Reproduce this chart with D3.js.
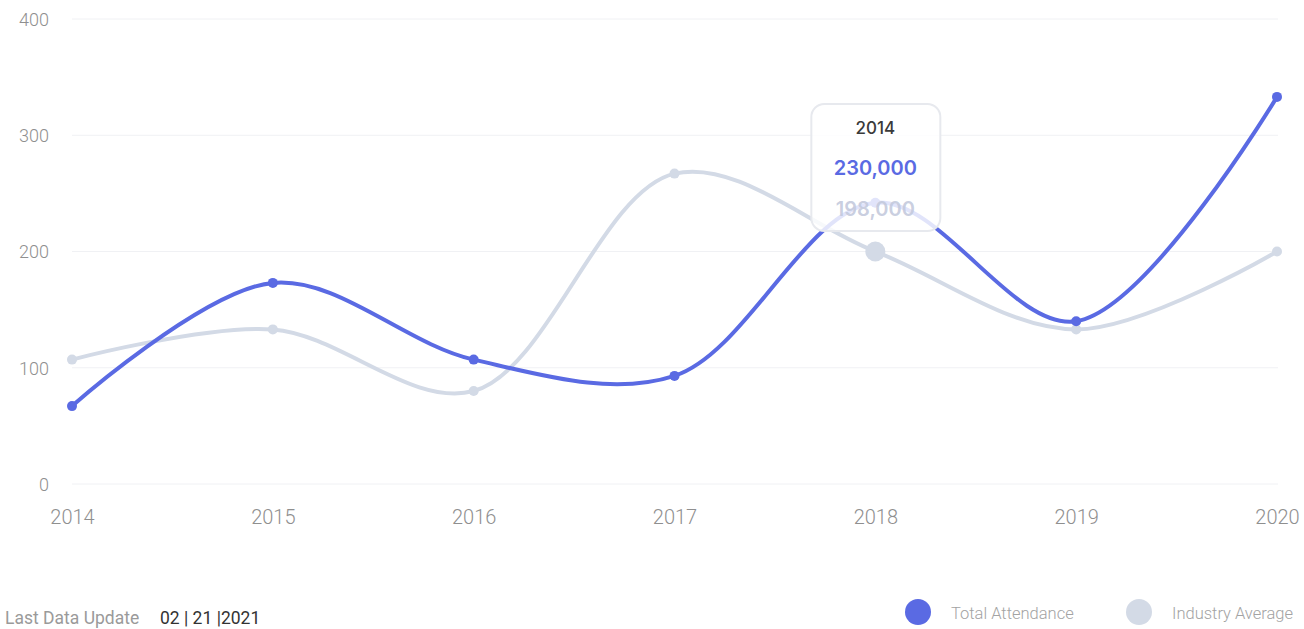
<!DOCTYPE html>
<html><head><meta charset="utf-8">
<script src="https://cdn.jsdelivr.net/npm/d3@7"></script>
<style>
html,body{margin:0;padding:0;background:#fff;}
svg{display:block;}
</style></head>
<body>
<svg id="chart" width="1304" height="629"></svg>
<script>
const years = ["2014","2015","2016","2017","2018","2019","2020"];
const totalAttendance = [67, 173, 107, 93, 242, 140, 333];
const industryAverage = [107, 133, 80, 267, 200, 133, 200];
const yTicks = [0, 100, 200, 300, 400];
const tooltipTitle = "2014";
const tooltipValues = ["230,000", "198,000"];
const legendLabels = ["Total Attendance", "Industry Average"];
const hoverIndex = 4;

const blue = "#5a6ae3";
const grey = "#d3dae6";

const svg = d3.select("#chart");
const x = d3.scalePoint().domain(years).range([72, 1277]);
const y = d3.scaleLinear().domain([0, 400]).range([484, 19]);

// grid
svg.append("g").selectAll("line").data(yTicks).join("line")
  .attr("x1", 72).attr("x2", 1278)
  .attr("y1", d => y(d)).attr("y2", d => y(d))
  .attr("stroke", "#f0f1f4").attr("stroke-width", 1);

// y labels
const yAxis = d3.axisLeft(y).tickValues(yTicks).tickSize(0).tickPadding(0);
const gy = svg.append("g").attr("transform", "translate(49,0)").call(yAxis);
gy.select(".domain").remove();
gy.selectAll("text").attr("font-family", "Roboto").attr("font-size", 18).attr("font-weight", 300)
  .attr("fill", "#8f8f8f").attr("dy", "0.35em");

// x labels
const xAxis = d3.axisBottom(x).tickSize(0).tickPadding(0);
const gx = svg.append("g").attr("transform", "translate(0,517)").call(xAxis);
gx.select(".domain").remove();
gx.selectAll("text").attr("font-family", "Roboto").attr("font-size", 20).attr("font-weight", 300)
  .attr("fill", "#8f8f8f").attr("dy", "0.35em");

const line = d3.line().x((d, i) => x(years[i])).y(d => y(d)).curve(d3.curveCatmullRom.alpha(0.5));

svg.append("path").datum(industryAverage).attr("d", line)
  .attr("fill", "none").attr("stroke", grey).attr("stroke-width", 4);
svg.append("path").datum(totalAttendance).attr("d", line)
  .attr("fill", "none").attr("stroke", blue).attr("stroke-width", 4);

svg.append("g").selectAll("circle").data(industryAverage).join("circle")
  .attr("cx", (d, i) => x(years[i])).attr("cy", d => y(d))
  .attr("r", (d, i) => i === hoverIndex ? 10 : 5).attr("fill", grey);
svg.append("g").selectAll("circle").data(totalAttendance).join("circle")
  .attr("cx", (d, i) => x(years[i])).attr("cy", d => y(d))
  .attr("r", 5).attr("fill", blue);

// tooltip
const tx = x(years[hoverIndex]);
const tip = svg.append("g");
tip.append("rect").attr("x", tx - 64).attr("y", 104).attr("width", 129).attr("height", 127)
  .attr("rx", 13).attr("fill", "#ffffff").attr("fill-opacity", 0.82)
  .attr("stroke", "#e7e9ee").attr("stroke-width", 2);
tip.append("text").attr("x", tx).attr("y", 134).attr("text-anchor", "middle")
  .attr("font-family", "Inter").attr("font-size", 17).attr("font-weight", 500)
  .attr("fill", "#3a3a3a").text(tooltipTitle);
tip.append("text").attr("x", tx).attr("y", 175).attr("text-anchor", "middle")
  .attr("font-family", "Inter").attr("font-size", 20).attr("font-weight", 600)
  .attr("fill", blue).text(tooltipValues[0]);
tip.append("text").attr("x", tx).attr("y", 216).attr("text-anchor", "middle")
  .attr("font-family", "Inter").attr("font-size", 20).attr("font-weight", 600)
  .attr("fill", "#c3c9dc").attr("fill-opacity", 0.9).text(tooltipValues[1]);

// legend
const legend = svg.append("g");
const lx = [918, 1139];
const lc = [blue, grey];
legendLabels.forEach((t, i) => {
  legend.append("circle").attr("cx", lx[i]).attr("cy", 612).attr("r", 13).attr("fill", lc[i]);
  legend.append("text").attr("x", lx[i] + 33).attr("y", 613).attr("dy", "0.35em")
    .attr("font-family", "Roboto").attr("font-size", 16.5).attr("font-weight", 300)
    .attr("fill", "#a3a3a3").text(t);
});

// footer
svg.append("text").attr("x", 5).attr("y", 624).attr("font-family", "Roboto")
  .attr("font-size", 17.5).attr("fill", "#9a9a9a").text("Last Data Update");
svg.append("text").attr("x", 160).attr("y", 624).attr("font-family", "Roboto")
  .attr("font-size", 17.5).attr("font-weight", 400).attr("fill", "#333").text("02 | 21 |2021");
</script>
</body></html>
